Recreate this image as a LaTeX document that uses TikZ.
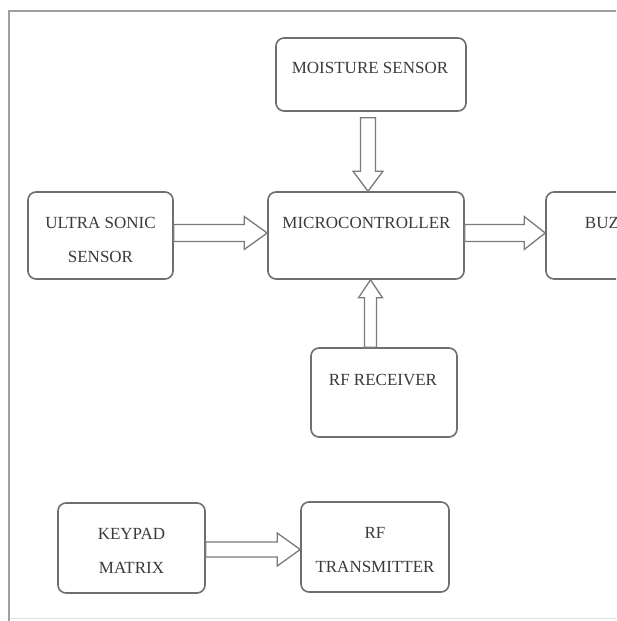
\documentclass[tikz,border=0pt]{standalone}
\usepackage{fontspec}
\setmainfont{Liberation Serif}
\usetikzlibrary{calc}
\definecolor{boxgray}{HTML}{6E6E6E}
\definecolor{arrgray}{HTML}{7A7A7A}
\definecolor{txtgray}{HTML}{3A3A3A}
\definecolor{framegray}{HTML}{A0A0A0}
\definecolor{faintgray}{HTML}{E2E2E2}
% right-pointing hollow arrow: from, to, yshift, shaft half width, head half width, head length
\newcommand\myHArrow[6]{\draw[hollow] let \p1=([yshift=#3pt]#1), \p2=(#2) in
  (\x1,\y1+#4pt) -- (\x2-#6pt,\y1+#4pt) -- (\x2-#6pt,\y1+#5pt) -- (\x2,\y1)
  -- (\x2-#6pt,\y1-#5pt) -- (\x2-#6pt,\y1-#4pt) -- (\x1,\y1-#4pt) -- cycle;}
% down-pointing hollow arrow: from, to, shaft half width, head half width, head length
\newcommand\myDArrow[5]{\draw[hollow] let \p1=(#1), \p2=(#2) in
  (\x1-#3pt,\y1) -- (\x1-#3pt,\y2+#5pt) -- (\x1-#4pt,\y2+#5pt) -- (\x1,\y2)
  -- (\x1+#4pt,\y2+#5pt) -- (\x1+#3pt,\y2+#5pt) -- (\x1+#3pt,\y1) -- cycle;}
% up-pointing hollow arrow
\newcommand\myUArrow[5]{\draw[hollow] let \p1=(#1), \p2=(#2) in
  (\x1-#3pt,\y1) -- (\x1-#3pt,\y2-#5pt) -- (\x1-#4pt,\y2-#5pt) -- (\x1,\y2)
  -- (\x1+#4pt,\y2-#5pt) -- (\x1+#3pt,\y2-#5pt) -- (\x1+#3pt,\y1) -- cycle;}
\begin{document}
\begin{tikzpicture}[x=1pt,y=-1pt,
  box/.style={draw=boxgray, line width=1.6pt, rounded corners=8pt, inner sep=0pt},
  lbl/.style={font=\fontsize{17}{34}\selectfont, text=txtgray, align=center, inner sep=0pt},
  hollow/.style={draw=arrgray, line width=1.3pt, line join=miter}]
\useasboundingbox (0,0) rectangle (616,621);
\clip (0,0) rectangle (616,621);
\fill[white] (0,0) rectangle (616,621);
% frame
\draw[faintgray, line width=1pt] (9,618) -- (640,618);
\draw[framegray, line width=2pt] (9,640) -- (9,11) -- (640,11);
% boxes
\node[box, minimum width=190pt, minimum height=73pt] (moist) at (371,74.5) {};
\node[box, minimum width=196pt, minimum height=87pt] (micro) at (366,235.5) {};
\node[box, minimum width=145pt, minimum height=87pt] (ultra) at (100.5,235.5) {};
\node[box, minimum width=144pt, minimum height=87pt] (buzz) at (618,235.5) {};
\node[box, minimum width=146pt, minimum height=89pt] (rfr) at (384,392.5) {};
\node[box, minimum width=147pt, minimum height=90pt] (keypad) at (131.5,548) {};
\node[box, minimum width=148pt, minimum height=90pt] (rftx) at (375,547) {};
% labels
\node[lbl] (moistT) at (370,68) {MOISTURE SENSOR};
\node[lbl] (microT) at (366.5,223) {MICROCONTROLLER};
\node[lbl] (ultraT) at (100.5,240) {ULTRA SONIC\\SENSOR};
\node[lbl] (buzzT) at (618,223) {BUZZER};
\node[lbl] (rfrT) at (383,380) {RF RECEIVER};
\node[lbl] (keyT) at (131.5,550.5) {KEYPAD\\MATRIX};
\node[lbl] (rftxT) at (375,550.5) {RF\\TRANSMITTER};
% arrows
\myHArrow{ultra.east}{micro.west}{2.5}{8.5}{16.5}{23}
\myHArrow{micro.east}{buzz.west}{2.5}{8.5}{16.5}{21}
\myHArrow{keypad.east}{rftx.west}{-1.5}{7.5}{16.5}{23}
\myDArrow{[xshift=-3pt,yshift=-6pt]moist.south}{micro.north}{7.5}{15}{20}
\myUArrow{[xshift=-13.5pt]rfr.north}{micro.south}{6}{12}{18}
\end{tikzpicture}
\end{document}
